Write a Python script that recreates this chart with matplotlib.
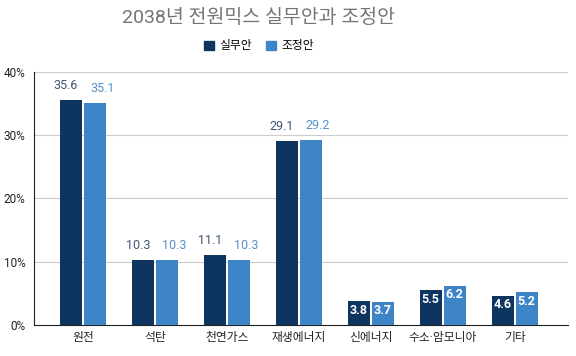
import matplotlib
matplotlib.use('Agg')
import matplotlib.pyplot as plt
import numpy as np
from matplotlib.patches import Patch

FAM = ['Roboto', 'Noto Sans CJK KR', 'DejaVu Sans']
plt.rcParams['font.family'] = FAM

# data
categories = ['원전', '석탄', '천연가스', '재생에너지', '신에너지', '수소·암모니아', '기타']
series_names = ['실무안', '조정안']
draft = [35.6, 10.3, 11.1, 29.1, 3.8, 5.5, 4.6]
adjusted = [35.1, 10.3, 10.3, 29.2, 3.7, 6.2, 5.2]
yticks = [0, 10, 20, 30, 40]

DARK = '#0e3560'
LIGHT = '#3e85c8'
DARK_LBL = '#3f5570'
LIGHT_LBL = '#5590c8'

fig = plt.figure(figsize=(5.76, 3.56), dpi=100)
fig.patch.set_facecolor('white')
ax = fig.add_axes([0.059, 0.087, 0.927, 0.711])

x = np.arange(len(categories))
off = 0.167
w = 0.305
b1 = ax.bar(x - off, draft, w, color=DARK, zorder=3)
b2 = ax.bar(x + off, adjusted, w, color=LIGHT, zorder=3)

for bars, vals, lc, shift in [(b1, draft, DARK_LBL, -0.07), (b2, adjusted, LIGHT_LBL, 0.1)]:
    for r, v in zip(bars, vals):
        cx = r.get_x() + r.get_width() / 2
        if v < 8:
            ax.text(cx, v - 0.4, f'{v:.1f}', ha='center', va='top',
                    fontsize=9, color='white', fontweight='bold', zorder=4)
        else:
            ax.text(cx + shift, v + 1.3, f'{v:.1f}', ha='center', va='bottom',
                    fontsize=9, color=lc, zorder=4)

ax.set_xlim(-0.68, 6.74)
ax.set_ylim(0, 40)
ax.set_yticks(yticks)
ax.set_yticklabels([f'{t}%' for t in yticks], fontsize=8.5, color='#222222')
ax.set_xticks(x)
ax.set_xticklabels(categories, fontsize=8.5, color='#222222')
ax.tick_params(axis='both', length=0, pad=4)
ax.tick_params(axis='y', pad=6)
ax.grid(axis='y', color='#cccccc', lw=0.8, zorder=0)
for s in ['top', 'right']:
    ax.spines[s].set_visible(False)
ax.spines['left'].set_color('#222222')
ax.spines['bottom'].set_color('#222222')

fig.text(0.448, 0.949, '2038년 전원믹스 실무안과 조정안', ha='center', va='center',
         fontsize=14, color='#757575')
handles = [Patch(color=DARK), Patch(color=LIGHT)]
fig.legend(handles, series_names, loc='center', bbox_to_anchor=(0.45, 0.871),
           ncol=2, frameon=False, fontsize=8.5, handlelength=0.8, handleheight=0.8,
           columnspacing=1.2, handletextpad=0.5)

fig.savefig('out.png', dpi=100, facecolor='white')
